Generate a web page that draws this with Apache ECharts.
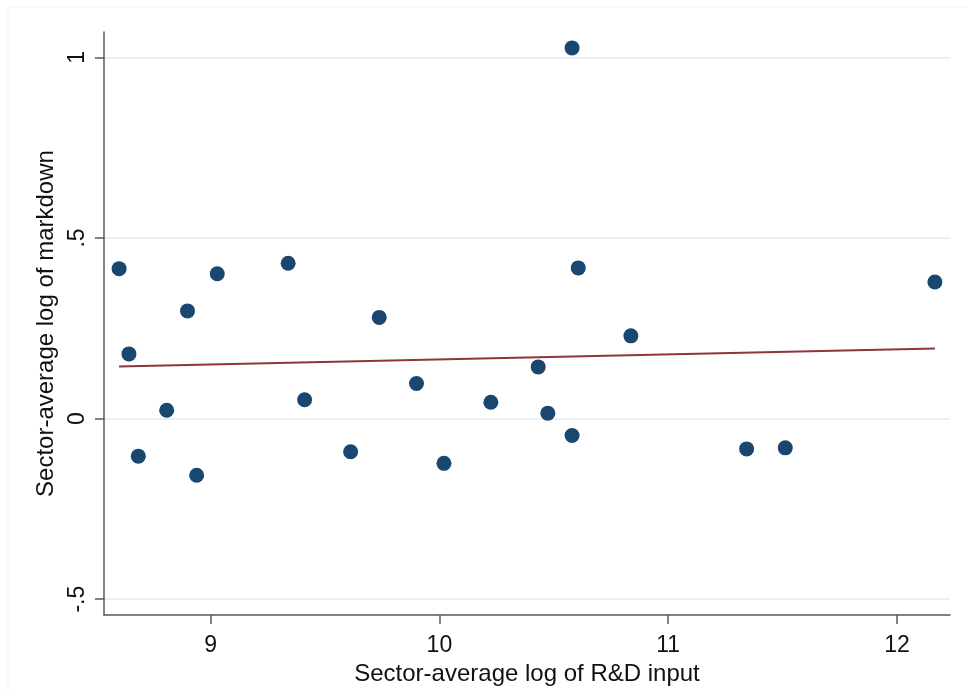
<!DOCTYPE html>
<html>
<head>
<meta charset="utf-8">
<script src="https://cdn.jsdelivr.net/npm/echarts@6/dist/echarts.min.js"></script>
<style>
html,body{margin:0;padding:0;background:#fff;}
#chart{width:967px;height:691px;}
</style>
</head>
<body>
<div id="chart"></div>
<script>
// Data
const xVals = [8.600, 8.643, 8.684, 8.808, 8.899, 8.939, 9.029, 9.339, 9.411, 9.612, 9.737, 9.900, 10.020, 10.225, 10.432, 10.474, 10.580, 10.580, 10.607, 10.837, 11.343, 11.512, 12.166];
const yVals = [0.415, 0.179, -0.104, 0.023, 0.298, -0.157, 0.401, 0.430, 0.052, -0.092, 0.280, 0.097, -0.124, 0.045, 0.143, 0.015, 1.026, -0.047, 0.417, 0.229, -0.084, -0.081, 0.378];
const fitX = [8.600, 12.166];
const fitY = [0.144, 0.194];
const xTicks = [9, 10, 11, 12];
const yTicks = [-0.5, 0, 0.5, 1];
const yTickLabels = ['-.5', '0', '.5', '1'];
const xTitle = 'Sector-average log of R&D input';
const yTitle = 'Sector-average log of markdown';

const scatterData = xVals.map((x, i) => [x, yVals[i]]);
const fitData = fitX.map((x, i) => [x, fitY[i]]);

const chart = echarts.init(document.getElementById('chart'));
const font = 'Liberation Sans, Arial, sans-serif';
chart.setOption({
  backgroundColor: '#ffffff',
  animation: false,
  graphic: [{
    type: 'rect', silent: true, z: -10,
    shape: {x: 8, y: 7, width: 1000, height: 720},
    style: {fill: 'none', stroke: '#f2f2f2', lineWidth: 1}
  }],
  grid: {left: 104, right: 17, top: 32, bottom: 75, containLabel: false},
  xAxis: {
    type: 'value',
    min: 8.534, max: 12.232,
    name: xTitle, nameLocation: 'middle', nameGap: 41,
    nameTextStyle: {fontFamily: font, fontSize: 24, color: '#111'},
    axisLine: {show: true, onZero: false, lineStyle: {color: '#5a5a5a', width: 1.5}},
    axisTick: {show: true, length: 9, customValues: xTicks, lineStyle: {color: '#5a5a5a', width: 1.5}},
    axisLabel: {customValues: xTicks, margin: 19, fontFamily: font, fontSize: 23, color: '#111',
      formatter: v => String(v)},
    splitLine: {show: false}
  },
  yAxis: {
    type: 'value',
    min: -0.544, max: 1.07,
    name: yTitle, nameLocation: 'middle', nameGap: 33, nameRotate: 90,
    nameTextStyle: {fontFamily: font, fontSize: 24, color: '#111'},
    axisLine: {show: true, onZero: false, lineStyle: {color: '#5a5a5a', width: 1.5}},
    axisTick: {show: true, length: 9, customValues: yTicks, lineStyle: {color: '#5a5a5a', width: 1.5}},
    axisLabel: {customValues: yTicks, margin: 15, rotate: 90, fontFamily: font, fontSize: 23, color: '#111',
      formatter: v => { const i = yTicks.findIndex(t => Math.abs(t - v) < 1e-9); return i >= 0 ? yTickLabels[i] : ''; }},
    splitLine: {show: true, lineStyle: {color: '#e9f0f4', width: 2}}
  },
  series: [
    {
      type: 'scatter',
      data: scatterData,
      symbol: 'circle',
      symbolSize: 15,
      itemStyle: {color: '#1a476f', opacity: 1},
      z: 3
    },
    {
      type: 'line',
      data: fitData,
      showSymbol: false,
      lineStyle: {color: '#90353b', width: 2},
      z: 2
    }
  ]
});
</script>
</body>
</html>
